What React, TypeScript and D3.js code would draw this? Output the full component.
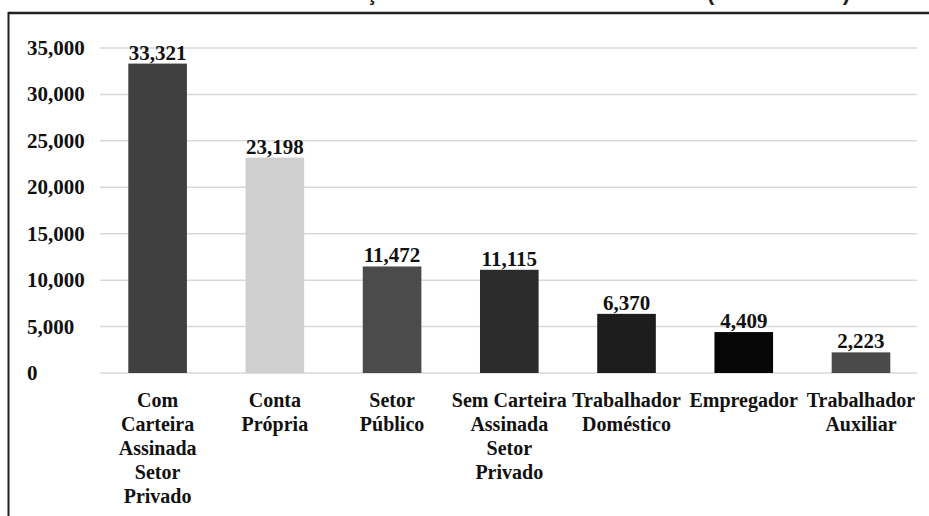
import React from 'react';
import * as d3 from 'd3';

// categories (split into label lines) and values, in thousands
const categories = [
  ['Com', 'Carteira', 'Assinada', 'Setor', 'Privado'],
  ['Conta', 'Própria'],
  ['Setor', 'Público'],
  ['Sem Carteira', 'Assinada', 'Setor', 'Privado'],
  ['Trabalhador', 'Doméstico'],
  ['Empregador'],
  ['Trabalhador', 'Auxiliar'],
];
const values = [33321, 23198, 11472, 11115, 6370, 4409, 2223];
const barColors = ['#404040', '#cfcfcf', '#4b4b4b', '#2c2c2c', '#1d1d1d', '#060606', '#4a4a4a'];
const yTicks = [0, 5000, 10000, 15000, 20000, 25000, 30000, 35000];
const title = 'Distribuição dos trabalhadores no Brasil (em milhares)';

const width = 929;
const height = 516;
const serif = { fontFamily: "'Liberation Serif', 'Tinos', 'Times New Roman', 'DejaVu Serif', serif" };

export default function App() {
  const keys = categories.map((c) => c.join(' '));

  const x = d3.scaleBand<string>()
    .domain(keys)
    .range([99, 919.6])
    .paddingInner(0.5)
    .paddingOuter(0.25);

  const y = d3.scaleLinear()
    .domain([0, 35000])
    .range([373, 48]);

  const fmt = d3.format(',');

  return (
    <svg
      width={width}
      height={height}
      style={{ position: 'absolute', left: 0, top: 0, background: 'white' }}
    >
      {/* title, cut off by the top of the picture */}
      <text
        x={850}
        y={0}
        textAnchor="end"
        style={{ fontFamily: "'Liberation Sans', Arial, sans-serif" }}
        fontWeight="bold"
        fontSize={22}
        fill="#231f20"
      >
        {title}
      </text>

      {/* frame */}
      <line x1={8} x2={width} y1={13} y2={13} stroke="#231f20" strokeWidth={2.5} />
      <line x1={8.5} x2={8.5} y1={12} y2={height} stroke="#231f20" strokeWidth={2} />

      {/* grid */}
      {yTicks.map((t) => (
        <line
          key={'g' + t}
          x1={100}
          x2={917}
          y1={y(t)}
          y2={y(t)}
          stroke="#d9d9d9"
          strokeWidth={1.5}
        />
      ))}

      {/* y labels, left aligned */}
      {yTicks.map((t) => (
        <text
          key={'t' + t}
          x={27}
          y={y(t) + 7}
          style={serif}
          fontWeight="bold"
          fontSize={21}
          fill="#111"
        >
          {fmt(t)}
        </text>
      ))}

      {/* bars */}
      {values.map((v, i) => (
        <rect
          key={'b' + i}
          x={x(keys[i])}
          y={y(v)}
          width={x.bandwidth()}
          height={y(0) - y(v)}
          fill={barColors[i]}
        />
      ))}

      {/* value labels */}
      {values.map((v, i) => (
        <text
          key={'v' + i}
          x={(x(keys[i]) as number) + x.bandwidth() / 2}
          y={y(v) - 4}
          textAnchor="middle"
          style={serif}
          fontWeight="bold"
          fontSize={21}
          fill="#111"
        >
          {fmt(v)}
        </text>
      ))}

      {/* category labels */}
      {categories.map((lines, i) => (
        <text
          key={'c' + i}
          textAnchor="middle"
          style={serif}
          fontWeight="bold"
          fontSize={20}
          fill="#111"
        >
          {lines.map((l, j) => (
            <tspan
              key={j}
              x={(x(keys[i]) as number) + x.bandwidth() / 2}
              y={407 + j * 24}
            >
              {l}
            </tspan>
          ))}
        </text>
      ))}
    </svg>
  );
}
